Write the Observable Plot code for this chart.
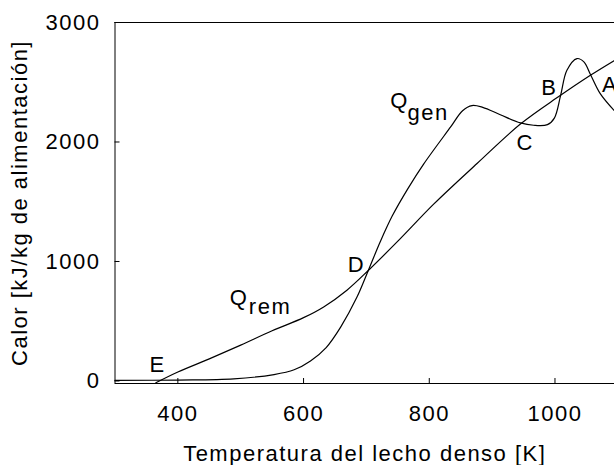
<!DOCTYPE html>
<html><head><meta charset="utf-8">
<script src="https://cdn.jsdelivr.net/npm/d3@7"></script>
<script src="https://cdn.jsdelivr.net/npm/@observablehq/plot@0.6"></script>
<style>html,body{margin:0;padding:0;background:#fff}svg{display:block}</style>
</head><body><div id="chart"></div>
<script>
// Q_gen curve (heat generated)
const qgenT = [300,400,489,553,585,611,636,659,685,703,722,741,766,791,834,853,868,885,913,945,966,988,999,1009,1019,1035,1046,1057,1072,1094];
const qgenQ = [5,8,18,54,94,168,280,451,702,925,1165,1380,1610,1815,2126,2262,2305,2290,2228,2160,2140,2145,2200,2390,2600,2698,2670,2559,2405,2265];
// Q_rem curve (heat removed)
const qremT = [365,400,450,500,550,600,632,669,703,750,807,876,945,1006,1057,1094];
const qremQ = [-15,75,185,300,420,530,620,760,925,1170,1480,1820,2150,2380,2560,2680];
// tick values
const xTicks = [400,600,800,1000];
const yTicks = [0,1000,2000,3000];
const xDomain = [300,1094.7];
const yDomain = [-21,3000];
// point labels
const ptNames = ["B","C","D","E"];
const ptT = [991,952.7,684,367.6];
const ptQ = [2391,1930,911,74];
const ptAName = ["A"];
const ptAT = [1075];
const ptAQ = [2419];
// curve labels (main letter + subscript)
const curveMain = ["Q","Q"];
const curveMainT = [738,482.7];
const curveMainQ = [2281,632];
const curveSub = ["gen","rem"];
const curveSubT = [765.4,512.9];
const curveSubQ = [2187,563];

const gen = qgenT.map((t,i)=>({t, q:qgenQ[i]}));
const rem = qremT.map((t,i)=>({t, q:qremQ[i]}));
const pts = ptNames.map((n,i)=>({n, t:ptT[i], q:ptQ[i]}));
const ptA = ptAName.map((n,i)=>({n, t:ptAT[i], q:ptAQ[i]}));
const mains = curveMain.map((n,i)=>({n, t:curveMainT[i], q:curveMainQ[i]}));
const subs = curveSub.map((n,i)=>({n, t:curveSubT[i], q:curveSubQ[i]}));
const fmt = d3.format("d");

const chart = Plot.plot({
  width: 614, height: 465,
  marginLeft: 114.5, marginRight: 0, marginTop: 22, marginBottom: 82,
  style: {fontFamily: "'Liberation Sans', Arial, sans-serif", fontSize: "22px", letterSpacing: "1.5px", color: "#000", background: "#fff"},
  x: {domain: xDomain},
  y: {domain: yDomain},
  marks: [
    Plot.ruleY([yDomain[1]], {stroke: "#000"}),
    Plot.ruleY([yDomain[0]], {stroke: "#000"}),
    Plot.ruleX([xDomain[0]], {stroke: "#000"}),
    Plot.axisX(xTicks, {tickSize: 0, tickPadding: 22, tickFormat: fmt, label: "Temperatura del lecho denso [K]", labelAnchor: "center", labelOffset: 77, labelArrow: false}),
    Plot.axisX(xTicks, {tickSize: -5, tickFormat: () => "", label: null}),
    Plot.axisY(yTicks, {tickSize: 0, tickPadding: 14.5, tickFormat: fmt, label: "Calor [kJ/kg de alimentación]", labelAnchor: "center", labelOffset: 104, labelArrow: false}),
    Plot.axisY(yTicks, {tickSize: -5, tickFormat: () => "", label: null}),
    Plot.line(gen, {x: "t", y: "q", curve: "catmull-rom", stroke: "#000", strokeWidth: 1.2}),
    Plot.line(rem, {x: "t", y: "q", curve: "catmull-rom", stroke: "#000", strokeWidth: 1.2}),
    Plot.text(pts, {x: "t", y: "q", text: "n", textAnchor: "middle", lineAnchor: "bottom", fill: "#000"}),
    Plot.text(ptA, {x: "t", y: "q", text: "n", textAnchor: "start", lineAnchor: "bottom", fill: "#000"}),
    Plot.text(mains, {x: "t", y: "q", text: "n", textAnchor: "start", lineAnchor: "bottom", fill: "#000"}),
    Plot.text(subs, {x: "t", y: "q", text: "n", textAnchor: "start", lineAnchor: "bottom", fill: "#000"})
  ]
});
document.getElementById("chart").appendChild(chart);
</script>
</body></html>
